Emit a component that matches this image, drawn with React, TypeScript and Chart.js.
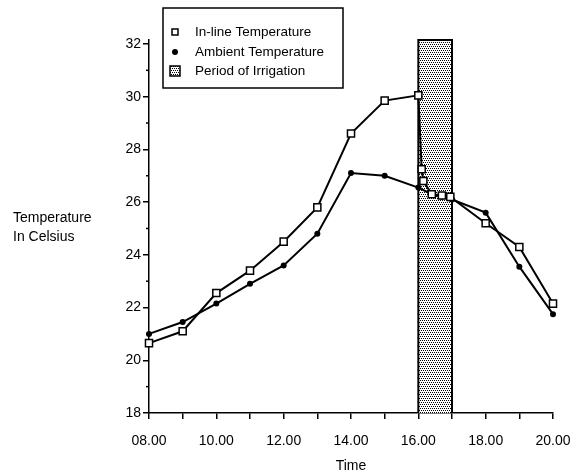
import React, { useEffect, useRef } from 'react';
import { Chart, registerables } from 'chart.js';

Chart.register(...registerables);

// ---- data ----
const inlineHours = [8, 9, 10, 11, 12, 13, 14, 15, 16, 16.1, 16.15, 16.4, 16.7, 16.95, 18, 19, 20];
const inlineTemps = [20.65, 21.1, 22.55, 23.4, 24.5, 25.8, 28.6, 29.85, 30.05, 27.25, 26.8, 26.3, 26.25, 26.2, 25.2, 24.3, 22.15];
const ambientHours = [8, 9, 10, 11, 12, 13, 14, 15, 16, 16.4, 16.7, 17, 18, 19, 20];
const ambientTemps = [21.0, 21.45, 22.15, 22.9, 23.6, 24.8, 27.1, 27.0, 26.55, 26.3, 26.2, 26.1, 25.6, 23.55, 21.75];
const irrigationStart = 16;
const irrigationEnd = 17;
const yMin = 18;
const yMax = 32.15;
const yTickValues = [18, 20, 22, 24, 26, 28, 30, 32];
const yMinorTickValues = [19, 21, 23, 25, 27, 29, 31];
const xMin = 8;
const xMax = 20;
const xTickValues = [8, 9, 10, 11, 12, 13, 14, 15, 16, 17, 18, 19, 20];
const legendLabels = ['In-line Temperature', 'Ambient Temperature', 'Period of Irrigation'];
const yTitleLines = ['Temperature', 'In Celsius'];
const xTitle = 'Time';

const FONT = '"Liberation Sans", Arial, Helvetica, sans-serif';

function makePattern(): CanvasPattern | string {
  const c = document.createElement('canvas');
  c.width = 4;
  c.height = 4;
  const g = c.getContext('2d');
  if (!g) return '#bbb';
  g.fillStyle = '#ffffff';
  g.fillRect(0, 0, 4, 4);
  g.fillStyle = '#000000';
  g.fillRect(0, 0, 1, 1);
  g.fillRect(2, 0, 1, 1);
  g.fillRect(1, 2, 1, 1);
  g.fillRect(3, 2, 1, 1);
  const p = g.createPattern(c, 'repeat');
  return p || '#bbb';
}

export default function App() {
  const ref = useRef<HTMLCanvasElement | null>(null);

  useEffect(() => {
    if (!ref.current) return;
    const pattern = makePattern();

    const extras = {
      id: 'extras',
      afterDraw(chart: any) {
        const ctx = chart.ctx as CanvasRenderingContext2D;
        const ys = chart.scales.y;
        const area = chart.chartArea;
        ctx.save();
        // minor y ticks
        ctx.strokeStyle = '#000';
        ctx.lineWidth = 1.5;
        yMinorTickValues.forEach((v) => {
          const py = ys.getPixelForValue(v);
          ctx.beginPath();
          ctx.moveTo(area.left - 3, py);
          ctx.lineTo(area.left, py);
          ctx.stroke();
        });
        // y title
        ctx.fillStyle = '#000';
        ctx.font = `14px ${FONT}`;
        ctx.textAlign = 'left';
        ctx.textBaseline = 'middle';
        ctx.fillText(yTitleLines[0], 13, 218);
        ctx.fillText(yTitleLines[1], 13, 237);
        // legend
        ctx.lineWidth = 1.5;
        ctx.strokeRect(163, 8, 180, 80);
        const rows = [32, 52, 71];
        ctx.font = `13.5px ${FONT}`;
        legendLabels.forEach((t, i) => ctx.fillText(t, 195, rows[i]));
        // square icon
        ctx.fillStyle = '#fff';
        ctx.fillRect(172, rows[0] - 3, 6, 6);
        ctx.strokeRect(172, rows[0] - 3, 6, 6);
        // dot icon
        ctx.fillStyle = '#000';
        ctx.beginPath();
        ctx.arc(175, rows[1], 3, 0, Math.PI * 2);
        ctx.fill();
        // pattern icon
        ctx.fillStyle = pattern as any;
        ctx.fillRect(170, rows[2] - 5, 10, 10);
        ctx.strokeRect(170, rows[2] - 5, 10, 10);
        ctx.restore();
      },
    };

    const chart = new Chart(ref.current, {
      type: 'line',
      data: {
        datasets: [
          {
            label: legendLabels[0],
            data: inlineHours.map((h, i) => ({ x: h, y: inlineTemps[i] })),
            borderColor: '#000',
            borderWidth: 2,
            pointStyle: 'rect',
            pointRadius: 5,
            pointBorderWidth: 1.5,
            pointBackgroundColor: '#fff',
            pointBorderColor: '#000',
            fill: false,
            tension: 0,
            clip: false,
            order: 0,
          },
          {
            label: legendLabels[1],
            data: ambientHours.map((h, i) => ({ x: h, y: ambientTemps[i] })),
            borderColor: '#000',
            borderWidth: 2,
            pointStyle: 'circle',
            pointRadius: 3,
            pointBorderWidth: 0,
            pointBackgroundColor: '#000',
            fill: false,
            tension: 0,
            clip: false,
            order: 1,
          },
          {
            label: legendLabels[2],
            data: [
              { x: irrigationStart, y: yMin },
              { x: irrigationStart, y: yMax },
              { x: irrigationEnd, y: yMax },
              { x: irrigationEnd, y: yMin },
            ],
            borderColor: '#000',
            borderWidth: 2,
            backgroundColor: pattern as any,
            fill: 'start',
            pointRadius: 0,
            tension: 0,
            clip: false,
            order: 2,
          },
        ],
      },
      options: {
        animation: false,
        responsive: false,
        maintainAspectRatio: false,
        layout: { padding: { top: 40, right: 20, left: 0, bottom: 0 } },
        plugins: {
          legend: { display: false },
          tooltip: { enabled: false },
        },
        scales: {
          x: {
            type: 'linear',
            min: xMin,
            max: xMax,
            afterBuildTicks: (scale: any) => {
              scale.ticks = xTickValues.map((v) => ({ value: v }));
            },
            afterFit: (scale: any) => {
              scale.height = 63;
              scale.paddingLeft = 0;
              scale.paddingRight = 0;
            },
            ticks: {
              autoSkip: false,
              maxRotation: 0,
              color: '#000',
              font: { family: FONT, size: 14 },
              padding: 14,
              callback: (v: any) => {
                const n = Number(v);
                if (n % 2 !== 0) return '';
                return (n < 10 ? '0' : '') + n + '.00';
              },
            },
            grid: {
              drawOnChartArea: false,
              drawTicks: true,
              tickLength: 6,
              color: '#000',
              lineWidth: 1.5,
            },
            border: { display: true, color: '#000', width: 1.5 },
            title: {
              display: true,
              text: xTitle,
              color: '#000',
              font: { family: FONT, size: 14 },
              padding: { top: 0, bottom: 1 },
            },
          },
          y: {
            type: 'linear',
            min: yMin,
            max: yMax,
            afterBuildTicks: (scale: any) => {
              scale.ticks = yTickValues.map((v) => ({ value: v }));
            },
            afterFit: (scale: any) => {
              scale.width = 149;
              scale.paddingTop = 0;
              scale.paddingBottom = 0;
            },
            ticks: {
              autoSkip: false,
              color: '#000',
              font: { family: FONT, size: 14 },
              padding: 2,
              callback: (v: any) => String(v),
            },
            grid: {
              drawOnChartArea: false,
              drawTicks: true,
              tickLength: 6,
              color: '#000',
              lineWidth: 1.5,
            },
            border: { display: true, color: '#000', width: 1.5 },
          },
        },
      },
      plugins: [extras],
    } as any);

    return () => chart.destroy();
  }, []);

  return (
    <div style={{ position: 'fixed', left: 0, top: 0, width: 573, height: 476, background: '#fff' }}>
      <canvas ref={ref} width={573} height={476} style={{ width: 573, height: 476, display: 'block' }} />
    </div>
  );
}
